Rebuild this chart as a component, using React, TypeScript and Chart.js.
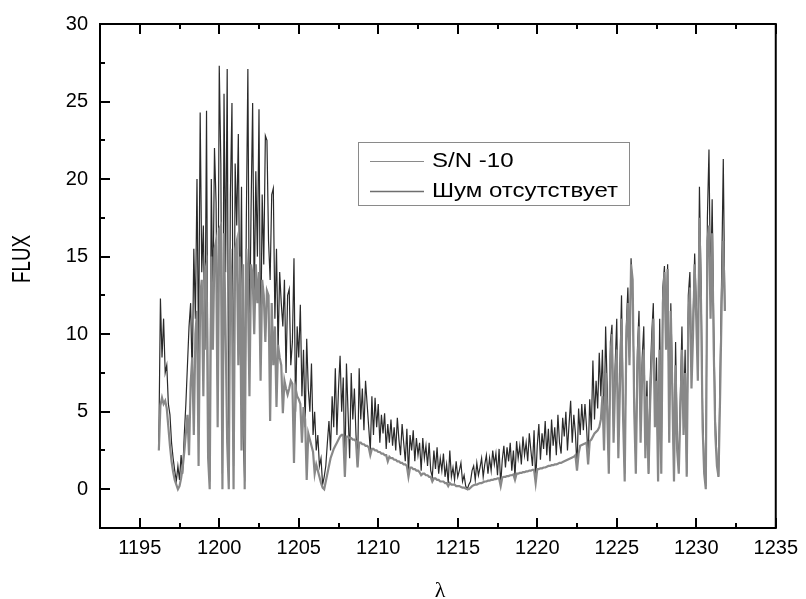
import React, { useEffect, useRef } from 'react';
import { Chart, registerables } from 'chart.js';

Chart.register(...registerables);

// Wavelength grid (Å): first sample and spacing
const LAMBDA_START = 1196.2;
const LAMBDA_STEP = 0.1;

// Flux with noise, S/N = 10 (one value per 0.1 Å, 1196.2 … 1231.8)
const NOISY_FLUX = [
  3.0, 12.3, 8.5, 11.0, 7.5, 8.0, 5.5, 4.8,
  3.0, 2.0, 1.2, 0.5, 1.5, 0.6, 2.2, 1.0, 3.5, 5.5,
  8.0, 10.5, 12.0, 7.0, 15.5, 11.0, 20.0, 8.5, 24.3, 14.0,
  17.0, 9.0, 24.4, 3.0, 0.5, 20.0, 12.0, 22.0, 18.5, 6.0,
  27.3, 21.0, 1.0, 25.5, 14.0, 27.1, 0.5, 19.0, 24.9, 1.5,
  21.0, 17.0, 22.9, 10.0, 19.5, 3.5, 0.5, 17.0, 27.1, 9.0,
  18.0, 24.9, 12.0, 20.5, 15.0, 24.5, 8.0, 19.0, 14.5, 22.8,
  22.5, 16.0, 13.5, 19.0, 19.4, 11.0, 15.5, 9.0, 14.0, 12.0,
  10.5, 13.5, 7.5, 12.5, 12.9, 8.0, 9.5, 14.9, 5.0, 10.5,
  8.5, 11.9, 6.0, 9.0, 4.0, 9.7, 6.5, 5.0, 8.1, 3.5,
  5.0, 2.5, 3.5, 1.5, 2.0, 0.3, 0.8, 1.5, 3.0, 4.4,
  2.5, 6.0, 4.0, 7.8, 3.5, 6.5, 8.6, 5.0, 7.2, 0.8,
  8.1, 5.0, 2.0, 7.5, 4.5, 6.5, 3.5, 1.5, 7.8, 4.5,
  6.5, 3.8, 7.0, 5.5, 4.0, 2.5, 6.0, 3.5, 5.9, 4.0,
  5.5, 3.0, 4.8, 3.6, 4.9, 2.6, 4.2, 3.0, 4.5, 2.8,
  4.0, 2.5, 4.6, 3.2, 2.2, 4.2, 3.0, 1.8, 3.9, 1.0,
  3.5, 2.5, 3.8, 1.8, 3.3, 2.2, 3.0, 1.2, 3.3, 2.0,
  2.8, 1.5, 3.0, 1.2, 0.8, 2.5, 1.3, 2.7, 1.0, 2.0,
  1.2, 2.3, 0.8, 1.6, 0.4, 2.5, 0.8, 1.4, 0.6, 1.8,
  0.8, 1.2, 1.7, 0.5, 0.9, 0.2, 0.0, 0.3, 0.5, 1.2,
  1.5, 0.6, 1.7, 0.9, 1.4, 2.0, 0.8, 1.6, 2.2, 1.0,
  2.0, 1.2, 2.5, 1.6, 2.3, 0.9, 2.6, 0.3, 1.9, 2.8,
  1.4, 2.7, 1.8, 3.0, 1.2, 2.5, 0.8, 3.1, 2.0, 2.8,
  1.6, 3.4, 2.2, 3.0, 1.8, 3.6, 2.5, 1.5, 3.8, 0.5,
  2.8, 4.2, 1.9, 3.6, 2.6, 4.4, 2.2, 3.9, 1.8, 4.5,
  2.8, 4.0, 2.2, 4.8, 3.0, 2.3, 4.6, 3.4, 5.0, 2.5,
  4.2, 5.7, 3.0, 4.8, 3.6, 1.4, 5.2, 3.5, 5.5, 3.8,
  5.5, 4.0, 2.0, 5.8, 3.8, 8.3, 4.5, 7.0, 5.2, 8.8,
  6.0, 9.0, 3.5, 10.5, 6.5, 1.5, 9.5, 10.6, 4.0, 8.0,
  11.0, 3.0, 8.0, 12.5, 5.5, 1.0, 10.5, 13.0, 8.5, 14.9,
  12.0, 6.5, 1.5, 9.0, 11.5, 4.0, 8.5, 10.5, 3.0, 7.0,
  1.0, 7.0, 10.0, 12.0, 5.0, 8.5, 1.0, 11.0, 2.0, 13.0,
  14.4, 10.0, 14.5, 4.0, 12.0, 7.0, 1.0, 9.5, 3.5, 1.5,
  6.0, 10.5, 4.5, 9.0, 1.0, 12.5, 14.0, 8.0, 11.0, 15.2,
  12.0, 8.5, 19.5, 13.5, 5.0, 1.5, 0.2, 17.5, 21.9, 12.5,
  18.7, 10.5, 4.5, 2.0, 0.8, 7.5, 14.0, 21.3, 11.5,
];

// Noise-free flux on the same grid
const CLEAN_FLUX = [
  2.5, 5.4, 5.9, 5.5, 5.7, 5.2, 4.0, 2.8,
  1.8, 1.1, 0.6, 0.3, 0.0, 0.2, 0.7, 1.4, 2.4, 3.6,
  4.8, 2.2, 6.8, 8.5, 3.5, 10.0, 11.5, 1.5, 12.5, 13.5,
  6.0, 14.0, 14.5, 2.0, 0.0, 15.0, 9.0, 15.5, 16.0, 4.0,
  16.8, 17.0, 0.0, 16.5, 10.0, 3.0, 0.0, 15.5, 12.0, 0.0,
  15.5, 16.0, 8.0, 15.0, 2.5, 14.5, 0.0, 15.5, 13.0, 6.0,
  14.5, 13.8, 10.0, 14.5, 12.0, 14.0, 7.0, 13.5, 12.5, 9.5,
  12.8, 12.5, 4.4, 12.0, 8.0, 10.5, 5.3, 9.3, 8.5, 8.0,
  4.9, 7.0, 6.5, 6.1, 6.5, 7.0, 6.8, 1.7, 6.5, 6.0,
  5.8, 5.5, 3.0, 5.3, 4.5, 0.6, 3.6, 3.2, 2.8, 2.4,
  1.0, 1.6, 1.2, 0.8, 0.4, 0.1, 0.0, 0.5, 1.0, 1.5,
  2.0, 2.3, 2.6, 2.8, 3.0, 3.2, 3.4, 3.5, 3.5, 0.8,
  3.4, 3.4, 3.3, 3.3, 3.2, 3.2, 3.1, 1.4, 3.0, 3.0,
  2.9, 2.9, 2.8, 2.8, 2.7, 2.2, 2.6, 2.6, 2.5, 2.5,
  2.4, 2.4, 2.3, 2.3, 2.2, 2.2, 1.8, 2.1, 2.0, 2.0,
  1.9, 1.9, 1.8, 1.8, 1.7, 1.7, 1.6, 1.6, 1.5, 0.8,
  1.4, 1.4, 1.3, 1.3, 1.2, 1.2, 1.1, 0.9, 1.0, 1.0,
  0.9, 0.9, 0.8, 0.8, 0.5, 0.7, 0.7, 0.6, 0.6, 0.5,
  0.5, 0.5, 0.4, 0.4, 0.2, 0.4, 0.3, 0.3, 0.3, 0.2,
  0.2, 0.2, 0.15, 0.1, 0.1, 0.05, 0.0, 0.0, 0.1, 0.2,
  0.25, 0.3, 0.3, 0.35, 0.4, 0.4, 0.45, 0.5, 0.5, 0.55,
  0.55, 0.6, 0.6, 0.65, 0.65, 0.7, 0.7, 0.2, 0.75, 0.8,
  0.8, 0.85, 0.85, 0.9, 0.9, 0.95, 0.6, 1.0, 1.0, 1.05,
  1.05, 1.1, 1.1, 1.15, 1.15, 1.2, 1.2, 1.25, 1.25, 0.4,
  1.3, 1.3, 1.35, 1.35, 1.4, 1.4, 1.45, 1.5, 1.5, 1.55,
  1.55, 1.6, 1.6, 1.65, 1.7, 1.7, 1.75, 1.8, 1.85, 1.9,
  1.95, 2.0, 2.05, 2.1, 2.2, 1.2, 2.3, 2.8, 2.85, 2.9,
  2.95, 3.0, 1.6, 3.1, 3.2, 3.4, 3.6, 3.7, 3.8, 4.0,
  4.5, 6.0, 2.5, 7.5, 5.0, 1.0, 8.5, 10.0, 3.0, 7.0,
  9.0, 2.0, 6.5, 11.0, 4.5, 0.5, 9.5, 12.0, 8.0, 14.5,
  13.5, 5.0, 1.0, 8.0, 10.5, 3.0, 7.5, 9.0, 2.0, 6.0,
  1.0, 5.5, 8.5, 11.0, 4.0, 7.0, 0.5, 9.0, 1.0, 12.0,
  14.0, 9.0, 14.2, 3.0, 11.5, 6.0, 0.5, 8.0, 2.5, 1.0,
  5.0, 9.0, 3.5, 7.5, 0.8, 11.0, 13.0, 6.5, 10.0, 14.5,
  11.0, 7.0, 17.5, 12.0, 4.0, 1.0, 0.0, 16.0, 17.0, 11.0,
  16.5, 9.0, 3.5, 1.5, 0.8, 6.0, 12.0, 16.0, 11.5,
];

const SERIES_LABELS = ['S/N -10', 'Шум отсутствует'];
const X_RANGE = [1192.5, 1235];
const Y_RANGE = [-2.5, 30];
const TICK_STEP = 2.5;
const LABEL_STEP = 5;
const X_TITLE = 'λ';
const Y_TITLE = 'FLUX';

const SANS = '"Liberation Sans", Arial, sans-serif';
const SERIF = '"Liberation Serif", "Times New Roman", serif';

const isMajor = (v: number) => Math.abs(v / LABEL_STEP - Math.round(v / LABEL_STEP)) < 1e-6;

const toPoints = (ys: number[]) =>
  ys.map((y, i) => ({ x: Math.round((LAMBDA_START + i * LAMBDA_STEP) * 10) / 10, y }));

const decorPlugin = {
  id: 'decor',
  afterDatasetsDraw(chart: any) {
    const { ctx, chartArea: a, scales } = chart;
    ctx.save();
    // frame
    ctx.strokeStyle = '#000';
    ctx.lineWidth = 2;
    ctx.strokeRect(a.left, a.top, a.right - a.left, a.bottom - a.top);
    // inward ticks: bottom, top, left
    ctx.beginPath();
    scales.x.ticks.forEach((t: any) => {
      const px = Math.round(scales.x.getPixelForValue(t.value));
      const len = isMajor(t.value) ? 10 : 5;
      ctx.moveTo(px, a.bottom);
      ctx.lineTo(px, a.bottom - len);
      ctx.moveTo(px, a.top);
      ctx.lineTo(px, a.top + len);
    });
    scales.y.ticks.forEach((t: any) => {
      const py = Math.round(scales.y.getPixelForValue(t.value));
      const len = isMajor(t.value) ? 10 : 5;
      ctx.moveTo(a.left, py);
      ctx.lineTo(a.left + len, py);
    });
    ctx.stroke();

    // axis titles
    ctx.fillStyle = '#000';
    ctx.font = `25px ${SANS}`;
    const fw = ctx.measureText(Y_TITLE).width;
    ctx.save();
    ctx.translate(23, 259);
    ctx.rotate(-Math.PI / 2);
    ctx.scale(48 / fw, 1);
    ctx.textAlign = 'center';
    ctx.textBaseline = 'middle';
    ctx.fillText(Y_TITLE, 0, 0);
    ctx.restore();

    ctx.font = `22px ${SERIF}`;
    ctx.textAlign = 'center';
    ctx.textBaseline = 'alphabetic';
    ctx.fillText(X_TITLE, 440, 597);

    // legend box
    const bx = 358.5, by = 142.5, bw = 271, bh = 63;
    ctx.fillStyle = '#fff';
    ctx.fillRect(bx, by, bw, bh);
    ctx.strokeStyle = '#8a8a8a';
    ctx.lineWidth = 1;
    ctx.strokeRect(bx, by, bw, bh);
    ctx.font = `20px ${SANS}`;
    const sx = 186 / ctx.measureText(SERIES_LABELS[1]).width;
    const rows = [161, 191];
    chart.data.datasets.forEach((ds: any, i: number) => {
      const y = rows[i];
      ctx.strokeStyle = i === 0 ? '#8a8a8a' : '#6e6e6e';
      ctx.lineWidth = i === 0 ? 1 : 1.5;
      ctx.beginPath();
      ctx.moveTo(370, y + 0.5);
      ctx.lineTo(424, y + 0.5);
      ctx.stroke();
      ctx.save();
      ctx.translate(432, y + 6);
      ctx.scale(sx, 1);
      ctx.fillStyle = '#000';
      ctx.textAlign = 'left';
      ctx.textBaseline = 'alphabetic';
      ctx.fillText(ds.label, 0, 0);
      ctx.restore();
    });
    ctx.restore();
  },
};

export default function App() {
  const canvasRef = useRef<HTMLCanvasElement | null>(null);

  useEffect(() => {
    if (!canvasRef.current) return;
    const chart = new Chart(canvasRef.current, {
      type: 'line',
      data: {
        datasets: [
          {
            label: SERIES_LABELS[0],
            data: toPoints(NOISY_FLUX),
            borderColor: '#2a2a2a',
            borderWidth: 1.2,
            pointRadius: 0,
            tension: 0,
            order: 1,
          },
          {
            label: SERIES_LABELS[1],
            data: toPoints(CLEAN_FLUX),
            borderColor: '#888888',
            borderWidth: 2.2,
            pointRadius: 0,
            tension: 0,
            order: 0,
          },
        ],
      },
      options: {
        animation: false,
        responsive: true,
        maintainAspectRatio: false,
        layout: { padding: { top: 20, right: 24, left: 0, bottom: 0 } },
        plugins: { legend: { display: false }, tooltip: { enabled: false } },
        scales: {
          x: {
            type: 'linear',
            min: X_RANGE[0],
            max: X_RANGE[1],
            grid: { display: false, drawTicks: false },
            border: { display: false },
            ticks: {
              stepSize: TICK_STEP,
              autoSkip: false,
              maxRotation: 0,
              padding: 8,
              color: '#000',
              font: { family: SANS, size: 20 },
              callback: (v: any) => (isMajor(Number(v)) ? String(v) : ''),
            },
            afterFit: (s: any) => {
              s.height = 71;
            },
          },
          y: {
            type: 'linear',
            min: Y_RANGE[0],
            max: Y_RANGE[1],
            grid: { display: false, drawTicks: false },
            border: { display: false },
            ticks: {
              stepSize: TICK_STEP,
              autoSkip: false,
              padding: 12,
              color: '#000',
              font: { family: SANS, size: 20 },
              callback: (v: any) => (isMajor(Number(v)) ? String(v) : ''),
            },
            afterFit: (s: any) => {
              s.width = 100;
            },
          },
        },
      },
      plugins: [decorPlugin],
    });
    return () => chart.destroy();
  }, []);

  return (
    <div style={{ position: 'absolute', left: 0, top: 0, width: 806, height: 599, background: '#fff' }}>
      <canvas ref={canvasRef} />
    </div>
  );
}
